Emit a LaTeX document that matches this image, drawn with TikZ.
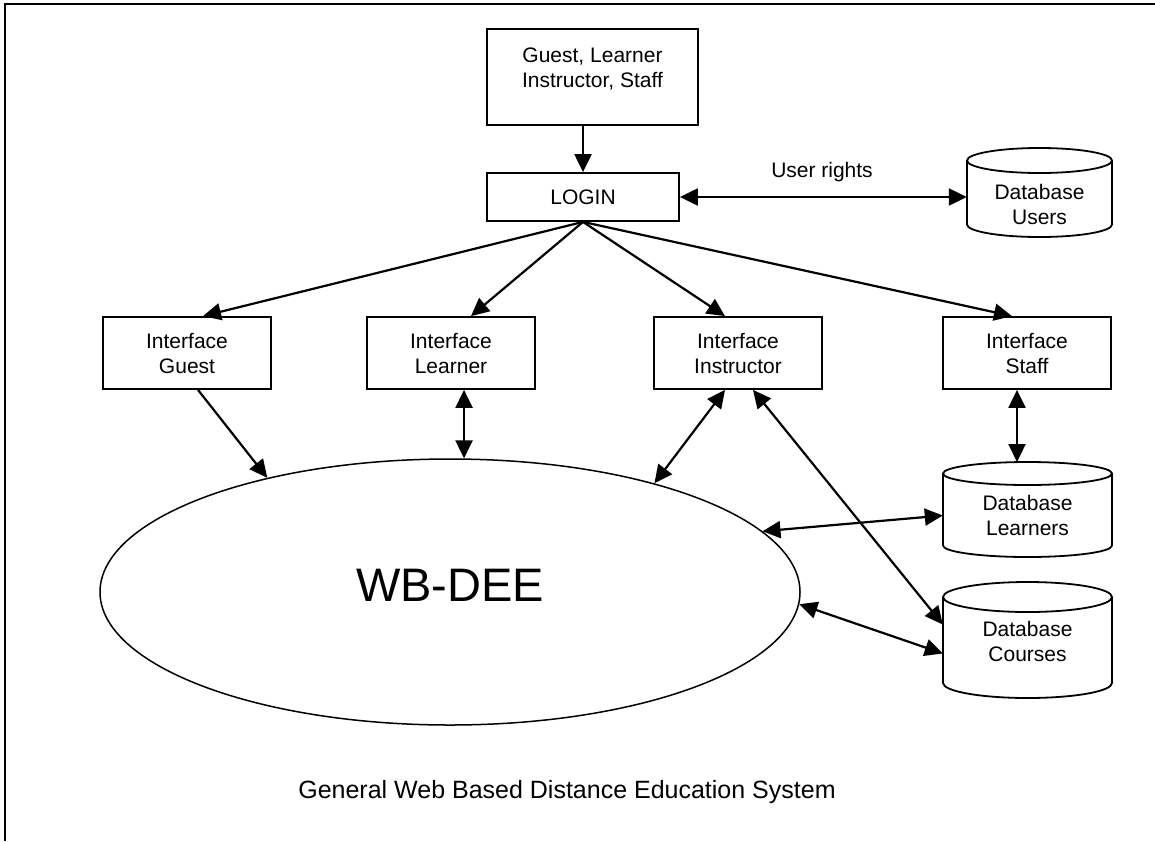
\documentclass[tikz,border=0pt]{standalone}
\usepackage{fontspec}
\setmainfont{Liberation Sans}
\usetikzlibrary{arrows.meta,shapes.geometric}
\tikzset{
  box/.style={draw, line width=1.8pt, minimum width=168pt, minimum height=72pt, inner sep=0pt, align=center, font=\fontsize{21pt}{25pt}\selectfont},
  dbtext/.style={inner sep=0pt, align=center, font=\fontsize{21pt}{25pt}\selectfont},
  cylline/.style={draw, line width=1.8pt, fill=white},
  tipstyle/.style={},
  arr/.style={line width=2.2pt, -{Triangle[length=18pt,width=17pt]}},
  darr/.style={line width=2.2pt, {Triangle[length=18pt,width=17pt]}-{Triangle[length=18pt,width=17pt]}},
  frameline/.style={line width=2pt},
}
\begin{document}
\begin{tikzpicture}[x=1pt,y=-1pt]
\useasboundingbox (0,0) rectangle (1155,841);
% frame
\draw[frameline] (1155,4) -- (5,4) -- (5,841);
% top box
\node[box, minimum width=211pt, minimum height=96pt, text depth=19pt] (users) at (592.5,77) {Guest, Learner\\Instructor, Staff};
% login
\node[box, minimum width=192pt, minimum height=48pt] (login) at (583,197) {LOGIN};
% interfaces
\node[box] (iguest) at (187,353) {Interface\\Guest};
\node[box] (ilearn) at (451,353) {Interface\\Learner};
\node[box] (iinstr) at (738,353) {Interface\\Instructor};
\node[box] (istaff) at (1027,353) {Interface\\Staff};
% ellipse
\node[draw, ellipse, line width=1.5pt, minimum width=700pt, minimum height=266pt, inner sep=0pt] (wb) at (450,592) {};
\node[font=\fontsize{47pt}{50pt}\selectfont, inner sep=0pt] (wblbl) at (450,585) {WB-DEE};
% database users
\path[cylline] (967,160.5) -- (967,224.5) arc[start angle=180,end angle=360,x radius=72.5pt,y radius=12.5pt] -- (1112,160.5);
\draw[line width=1.8pt] (1039.5,160.5) ellipse[x radius=72.5pt, y radius=12.5pt];
\node[dbtext, minimum width=145pt] (dbusers) at (1039.5,204) {Database\\Users};
% database learners
\path[cylline] (943,473.5) -- (943,545.5) arc[start angle=180,end angle=360,x radius=84.5pt,y radius=11.5pt] -- (1112,473.5);
\draw[line width=1.8pt] (1027.5,473.5) ellipse[x radius=84.5pt, y radius=11.5pt];
\coordinate (dblearntop) at (1027.5,462);
\node[dbtext, minimum width=169pt] (dblearn) at (1027.5,515.5) {Database\\Learners};
% database courses
\path[cylline] (943,597) -- (943,683) arc[start angle=180,end angle=360,x radius=84.5pt,y radius=15pt] -- (1112,597);
\draw[line width=1.8pt] (1027.5,597) ellipse[x radius=84.5pt, y radius=15pt];
\node[dbtext, minimum width=169pt] (dbcourse) at (1027.5,641.5) {Database\\Courses};
% caption
\node[font=\fontsize{25pt}{30pt}\selectfont, inner sep=0pt] (caption) at (567,792) {General Web Based Distance Education System};
% user rights label
\node[font=\fontsize{21pt}{25pt}\selectfont, inner sep=0pt] (urlbl) at (822,172) {User rights};
% connectors
\draw[arr] (users.south -| login.north) -- (login.north);
\draw[darr] (login.east) -- (login.east -| dbusers.west);
\draw[arr] (login.south) -- ([xshift=16pt]iguest.north);
\draw[arr] (login.south) -- ([xshift=20pt]ilearn.north);
\draw[arr] (login.south) -- ([xshift=-13pt]iinstr.north);
\draw[arr] (login.south) -- ([xshift=-15pt]istaff.north);
\draw[arr] ([xshift=11pt]iguest.south) -- (wb.148.9);
\draw[darr] (ilearn.south -| wb.84.4) -- (wb.84.4);
\draw[darr] ([xshift=-13pt]iinstr.south) -- (wb.28);
\draw[darr] ([xshift=15pt]iinstr.south) -- ([yshift=17pt]dbcourse.west);
\draw[darr] (wb.11) -- (dblearn.west);
\draw[darr] (wb.-2.5) -- ([yshift=-12pt]dbcourse.west);
\draw[darr] ([xshift=-10pt]istaff.south) -- ([xshift=-10pt]istaff.south |- dblearntop);
\end{tikzpicture}
\end{document}
